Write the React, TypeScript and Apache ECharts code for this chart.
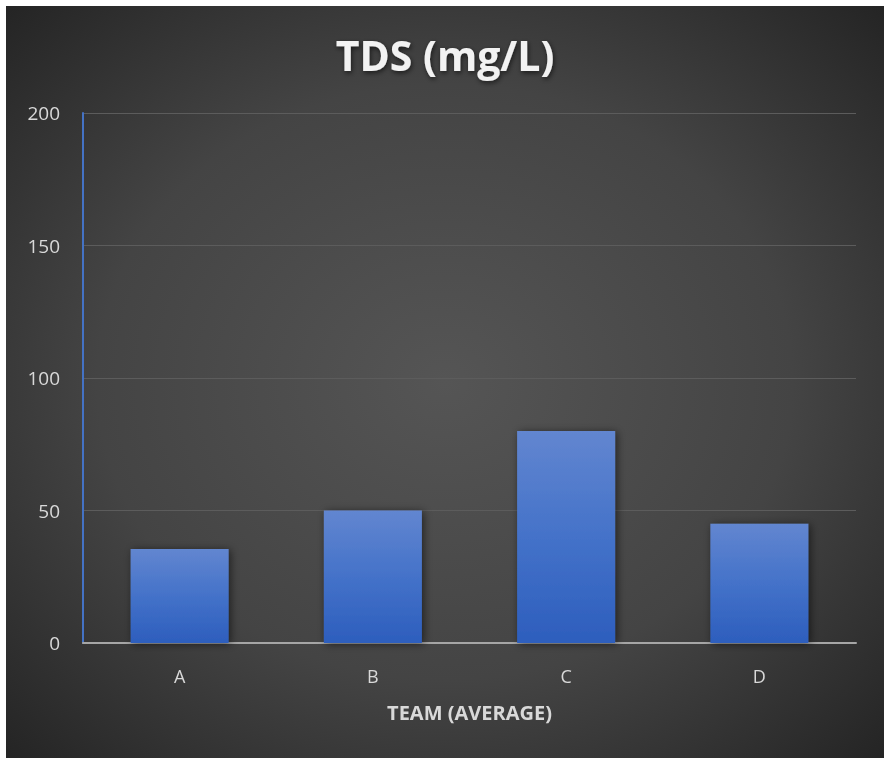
import React, { useEffect, useRef } from "react";
import * as echarts from "echarts";

const categories = ["A", "B", "C", "D"];
const tdsValues = [35.5, 50, 80, 45];
const yTicks = { min: 0, max: 200, interval: 50 };
const titleText = "TDS (mg/L)";
const xAxisTitle = "TEAM (AVERAGE)";

export default function App() {
  const ref = useRef<HTMLDivElement>(null);
  useEffect(() => {
    if (!ref.current) return;
    const chart = echarts.init(ref.current, undefined, { renderer: "svg" });
    chart.setOption({
      animation: false,
      backgroundColor: {
        type: "radial",
        x: 0.5,
        y: 0.5,
        r: 0.72,
        colorStops: [
          { offset: 0, color: "#555555" },
          { offset: 0.55, color: "#444444" },
          { offset: 1, color: "#232323" },
        ],
      },
      title: {
        text: titleText,
        left: "center",
        top: 23,
        textStyle: {
          color: "#f2f2f2",
          fontFamily: "Open Sans",
          fontWeight: "bold",
          fontSize: 41,
          textShadowColor: "rgba(0,0,0,0.6)",
          textShadowBlur: 5,
          textShadowOffsetX: 1,
          textShadowOffsetY: 2,
        },
      },
      grid: { left: 77, top: 107, width: 773, height: 530, containLabel: false },
      xAxis: {
        type: "category",
        data: categories,
        name: xAxisTitle,
        nameLocation: "middle",
        nameGap: 59,
        nameTextStyle: {
          color: "#d9d9d9",
          fontFamily: "Open Sans",
          fontWeight: "bold",
          fontSize: 20,
        },
        axisLine: { lineStyle: { color: "#a6a6a6", width: 2 } },
        axisTick: { show: false },
        axisLabel: {
          color: "#d9d9d9",
          fontFamily: "Open Sans",
          fontSize: 18,
          margin: 24,
        },
      },
      yAxis: {
        type: "value",
        min: yTicks.min,
        max: yTicks.max,
        interval: yTicks.interval,
        axisLine: { show: true, lineStyle: { color: "#4472c4", width: 2 } },
        axisTick: { show: false },
        splitLine: { lineStyle: { color: "#5c5c5c", width: 1 } },
        axisLabel: {
          color: "#d9d9d9",
          fontFamily: "Open Sans",
          fontSize: 19,
          margin: 23,
        },
      },
      series: [
        {
          type: "bar",
          data: tdsValues,
          barWidth: 98,
          itemStyle: {
            color: {
              type: "linear",
              x: 0,
              y: 0,
              x2: 0,
              y2: 1,
              colorStops: [
                { offset: 0, color: "#6286d0" },
                { offset: 0.5, color: "#4472c9" },
                { offset: 1, color: "#2d5ebd" },
              ],
            },
            shadowColor: "rgba(0,0,0,0.55)",
            shadowBlur: 8,
            shadowOffsetX: 2,
            shadowOffsetY: 1,
          },
        },
      ],
    });
    return () => chart.dispose();
  }, []);
  return (
    <div
      ref={ref}
      style={{ position: "fixed", left: 6, top: 6, width: 878, height: 752 }}
    />
  );
}
